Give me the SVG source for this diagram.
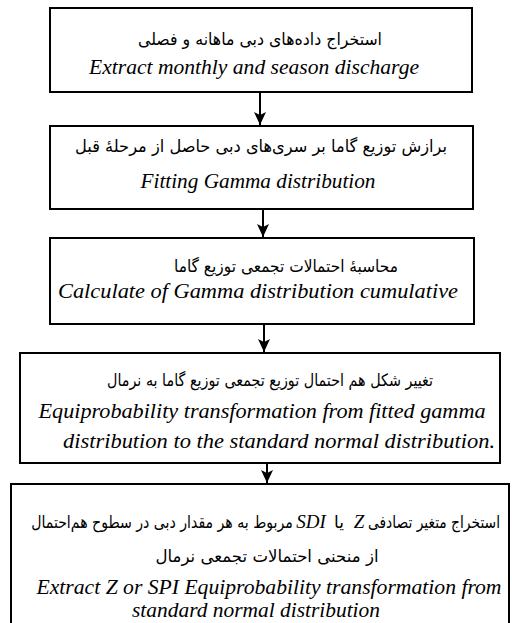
<svg xmlns="http://www.w3.org/2000/svg" width="512" height="623" viewBox="0 0 512 623">
<style>
.box{fill:#fff;stroke:#000;stroke-width:2}
.fa{font-family:"DejaVu Sans",sans-serif;font-size:17px;fill:#000}
.en{font-family:"Liberation Serif","Times New Roman",serif;font-style:italic;font-size:22px;fill:#000}
.conn{stroke:#000;stroke-width:2;fill:none}
.lat{font-family:"Liberation Serif","Times New Roman",serif;font-style:italic;font-size:19px;fill:#000}
</style>
<defs>
<marker id="ah" markerUnits="userSpaceOnUse" markerWidth="14" markerHeight="14" refX="13" refY="7" orient="auto">
<path d="M0,1 L13,7 L0,13 L3,7 z" fill="#000"/>
</marker>
</defs>
<rect width="512" height="623" fill="#fff"/>
<g id="connectors">
<line class="conn" x1="260" y1="92" x2="260" y2="125" marker-end="url(#ah)"/>
<line class="conn" x1="263" y1="209" x2="263" y2="237" marker-end="url(#ah)"/>
<line class="conn" x1="264" y1="324" x2="264" y2="352" marker-end="url(#ah)"/>
<line class="conn" x1="267" y1="463" x2="267" y2="483" marker-end="url(#ah)"/>
</g>
<g id="n1">
<rect class="box" x="50" y="8" width="422" height="84"/>
<text class="fa" x="260" y="45" text-anchor="middle" textLength="244" lengthAdjust="spacingAndGlyphs">استخراج داده‌های دبی ماهانه و فصلی</text>
<text class="en" x="254" y="74" text-anchor="middle" textLength="330" lengthAdjust="spacingAndGlyphs">Extract monthly and season discharge</text>
</g>
<g id="n2">
<rect class="box" x="50" y="126" width="423" height="83"/>
<text class="fa" x="261" y="152" text-anchor="middle" textLength="372" lengthAdjust="spacingAndGlyphs">برازش توزیع گاما بر سری‌های دبی حاصل از مرحلهٔ قبل</text>
<text class="en" x="258" y="188" text-anchor="middle" textLength="235" lengthAdjust="spacingAndGlyphs">Fitting Gamma distribution</text>
</g>
<g id="n3">
<rect class="box" x="50" y="238" width="424" height="86"/>
<text class="fa" x="286" y="272" text-anchor="middle" font-size="19" textLength="224" lengthAdjust="spacingAndGlyphs">محاسبهٔ احتمالات تجمعی توزیع گاما</text>
<text class="en" x="258" y="298" text-anchor="middle" textLength="400" lengthAdjust="spacingAndGlyphs">Calculate of Gamma distribution cumulative</text>
</g>
<g id="n4">
<rect class="box" x="20" y="353" width="480" height="110"/>
<text class="fa" x="270" y="386" text-anchor="middle" font-size="16" textLength="326" lengthAdjust="spacingAndGlyphs">تغییر شکل هم احتمال توزیع تجمعی توزیع گاما به نرمال</text>
<text class="en" x="262" y="418" text-anchor="middle" textLength="447" lengthAdjust="spacingAndGlyphs">Equiprobability transformation from fitted gamma</text>
<text class="en" x="279" y="448" text-anchor="middle" textLength="432" lengthAdjust="spacingAndGlyphs">distribution to the standard normal distribution.</text>
</g>
<g id="n5">
<rect class="box" x="11" y="484" width="498" height="160"/>
<text class="fa" transform="translate(434,528) scale(0.8,1)" x="0" y="0" text-anchor="middle" font-size="16" textLength="165" lengthAdjust="spacingAndGlyphs">استخراج متغیر تصادفی</text>
<text class="lat" x="359" y="528" text-anchor="middle">Z</text>
<text class="fa" x="339" y="528" text-anchor="middle" font-size="16">یا</text>
<text class="lat" x="311" y="528" text-anchor="middle">SDI</text>
<text class="fa" transform="translate(162,528) scale(0.8,1)" x="0" y="0" text-anchor="middle" font-size="16" textLength="327" lengthAdjust="spacingAndGlyphs">مربوط به هر مقدار دبی در سطوح هم‌احتمال</text>
<text class="fa" x="267" y="562" text-anchor="middle" font-size="16" textLength="223" lengthAdjust="spacingAndGlyphs">از منحنی احتمالات تجمعی نرمال</text>
<text class="en" x="269" y="594" text-anchor="middle" textLength="465" lengthAdjust="spacingAndGlyphs">Extract Z or SPI Equiprobability transformation from</text>
<text class="en" x="256" y="617" text-anchor="middle" textLength="248" lengthAdjust="spacingAndGlyphs">standard normal distribution</text>
</g>
</svg>
